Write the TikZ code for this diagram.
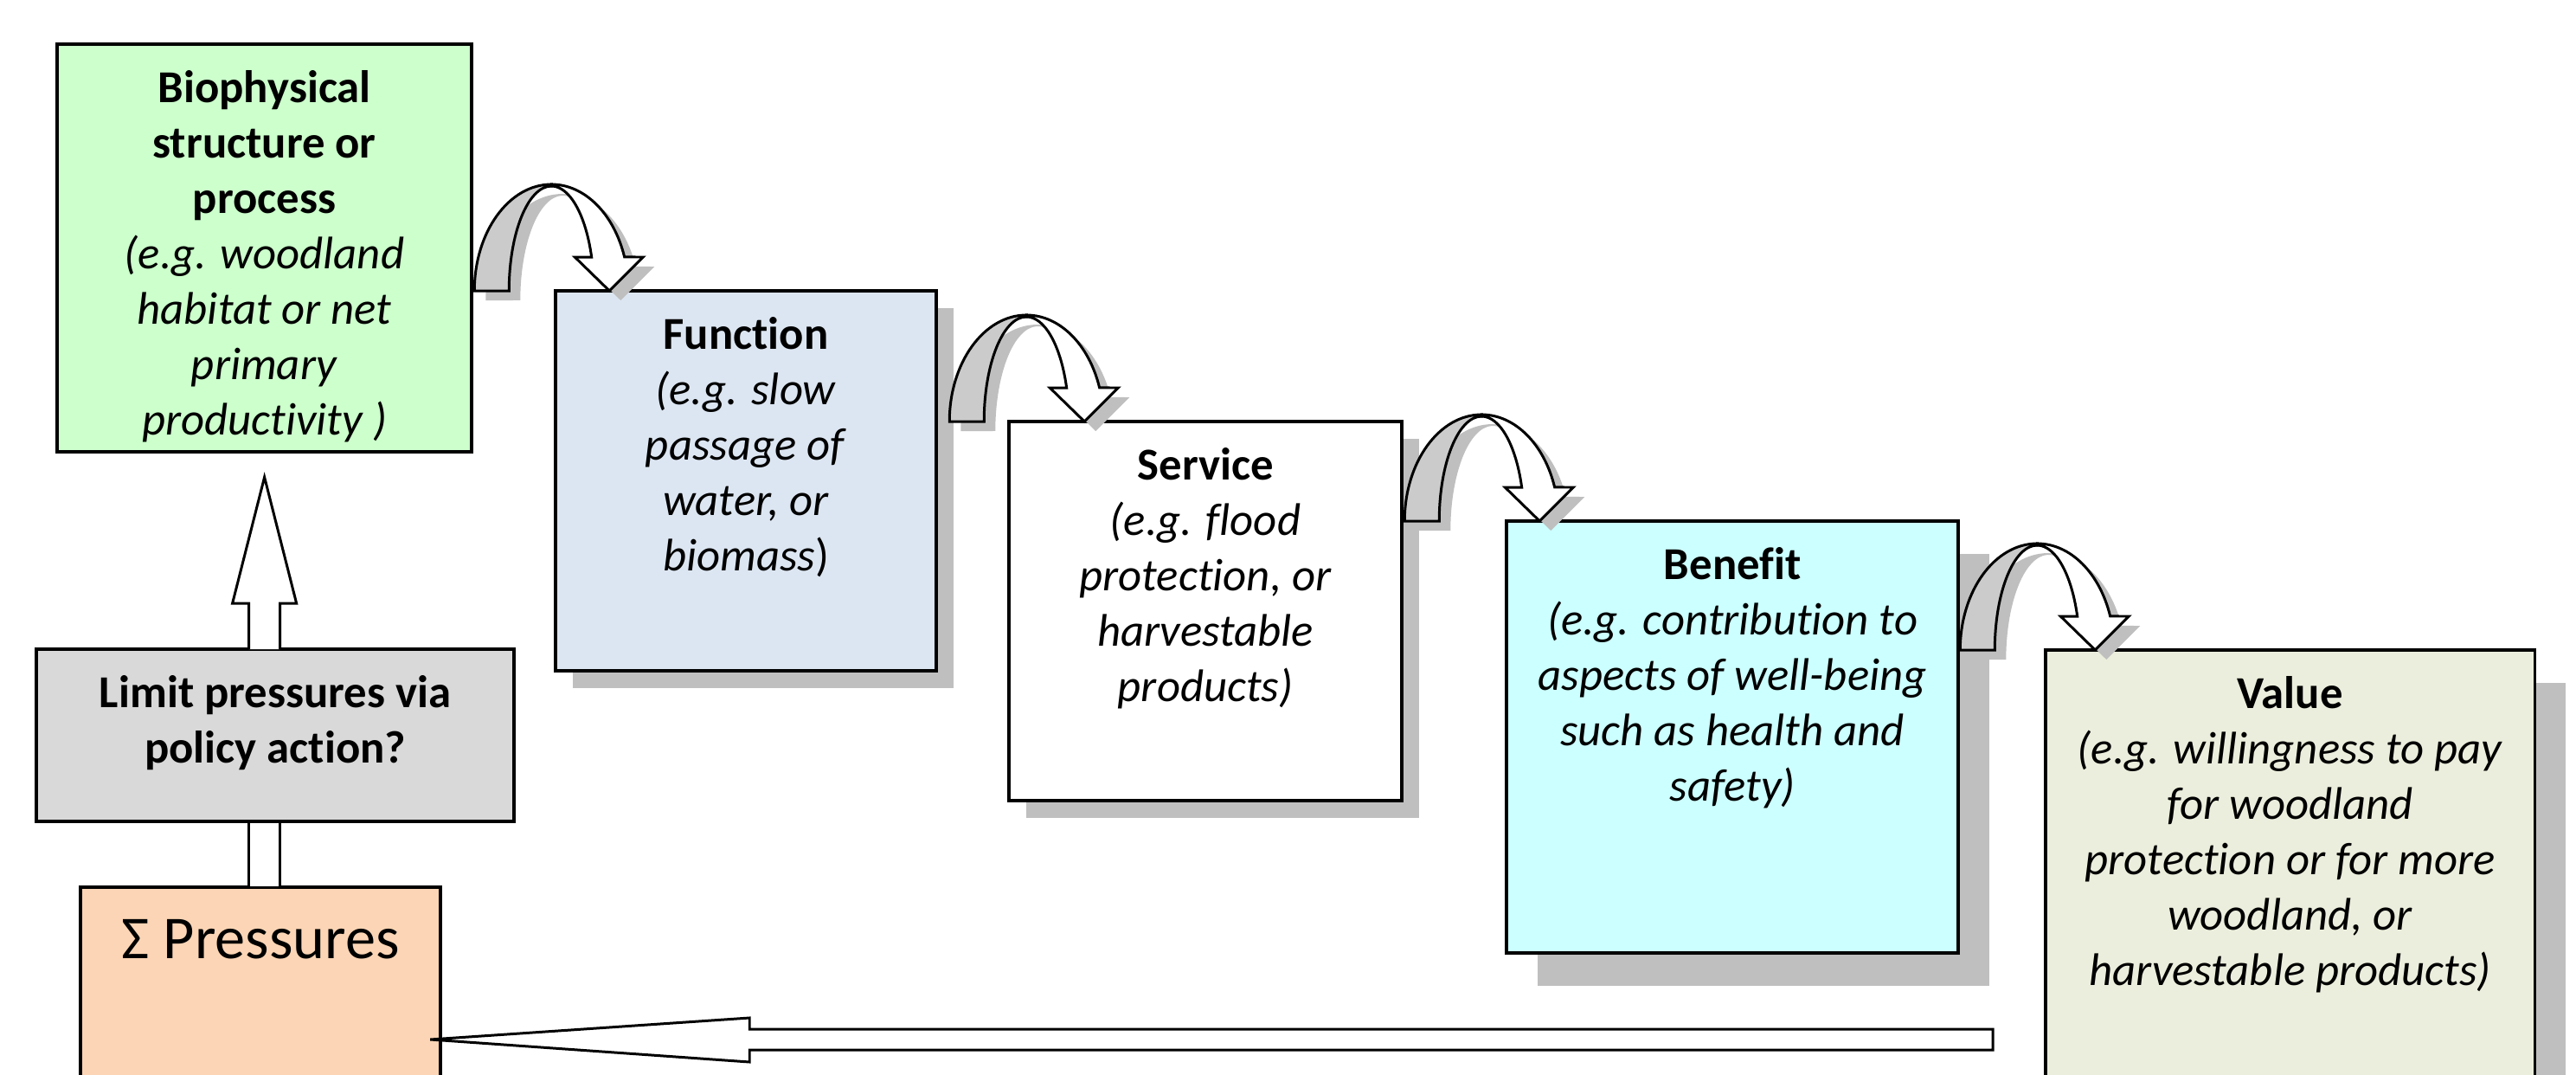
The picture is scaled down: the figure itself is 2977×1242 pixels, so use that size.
\documentclass[tikz,border=0pt]{standalone}
\usepackage{fontspec}
\setmainfont{Carlito}[Ligatures={NoCommon}]
\usetikzlibrary{calc,shadows}
\definecolor{biogreen}{HTML}{CCFFCC}
\definecolor{funcblue}{HTML}{DCE6F2}
\definecolor{benefitcyan}{HTML}{CCFFFF}
\definecolor{valuegreen}{HTML}{EBEEDC}
\definecolor{limitgray}{HTML}{D9D9D9}
\definecolor{pressorange}{HTML}{FBD5B5}
\definecolor{shadowgray}{HTML}{BFBFBF}
\definecolor{backgray}{HTML}{CBCBCB}
\tikzset{
  box/.style={draw=black, line width=1.05pt, rectangle, inner sep=0pt, outer sep=0pt, anchor=north west},
  shadowsmall/.style={drop shadow={shadow xshift=0.2cm, shadow yshift=-0.2cm, fill=shadowgray, opacity=1}},
  shadowlarge/.style={drop shadow={shadow xshift=0.36cm, shadow yshift=-0.38cm, fill=shadowgray, opacity=1}},
  txt/.style={align=center, inner sep=0pt, outer sep=0pt, anchor=north, font=\fontsize{15pt}{18.2pt}\selectfont},
  bigtxt/.style={align=center, inner sep=0pt, outer sep=0pt, anchor=north, font=\fontsize{20pt}{24pt}\selectfont},
  arrline/.style={draw=black, line width=0.85pt, line join=miter},
  blockline/.style={draw=black, fill=white, line width=0.85pt, line join=miter},
  curvedarr/.pic={
    \begin{scope}[shift={(13,-11)}]
      \fill[shadowgray] (0,0) arc[start angle=180,end angle=18.5,x radius=89,y radius=123]
        -- (195,39) -- (156,0) -- (116,39) -- (135.4,39)
        arc[start angle=18.8,end angle=180,x radius=49,y radius=121] -- cycle;
    \end{scope}
    \draw[arrline, fill=backgray] (0,0) arc[start angle=180,end angle=90,x radius=89,y radius=123]
      -- (89,121) arc[start angle=90,end angle=180,x radius=49,y radius=121] -- cycle;
    \draw[arrline, fill=white] (89,123) arc[start angle=90,end angle=18.5,x radius=89,y radius=123]
      -- (195,39) -- (156,0) -- (116,39) -- (135.4,39)
      arc[start angle=18.8,end angle=90,x radius=49,y radius=121] -- cycle;
  }
}
\begin{document}
\begin{tikzpicture}[x=0.01cm,y=0.01cm]
\useasboundingbox (0,0) rectangle (2977,-1242);
\clip (0,0) rectangle (2977,-1242);
\fill[white] (0,0) rectangle (2977,-1242);

% boxes
\node[box, fill=biogreen, minimum width=4.79cm, minimum height=4.71cm] (bio) at (66,-51) {};
\node[box, fill=funcblue, shadowsmall, minimum width=4.40cm, minimum height=4.39cm] (func) at (642,-336) {};
\node[box, fill=white, shadowsmall, minimum width=4.54cm, minimum height=4.38cm] (serv) at (1166,-487) {};
\node[box, fill=benefitcyan, shadowlarge, minimum width=5.22cm, minimum height=4.99cm] (ben) at (1741,-602) {};
\node[box, fill=valuegreen, shadowlarge, minimum width=5.65cm, minimum height=6.00cm] (val) at (2364,-751) {};
\node[box, fill=limitgray, minimum width=5.52cm, minimum height=1.99cm] (limit) at (42,-750) {};
\node[box, fill=pressorange, minimum width=4.16cm, minimum height=3.00cm] (press) at (93,-1025) {};

% texts
\node[txt] (biot) at ($(bio.north)+(0,-30)$) {\textbf{Biophysical}\\\textbf{structure or}\\\textbf{process}\\\textit{(e.g. woodland}\\\textit{habitat or net}\\\textit{primary}\\\textit{productivity )}};
\node[txt] (funct) at ($(func.north)+(0,-30)$) {\textbf{Function}\\\textit{(e.g. slow}\\\textit{passage of}\\\textit{water, or}\\\textit{biomass})};
\node[txt] (servt) at ($(serv.north)+(0,-30)$) {\textbf{Service}\\\textit{(e.g. flood}\\\textit{protection, or}\\\textit{harvestable}\\\textit{products)}};
\node[txt] (bent) at ($(ben.north)+(0,-30)$) {\textbf{Benefit}\\\textit{(e.g. contribution to}\\\textit{aspects of well-being}\\\textit{such as health and}\\\textit{safety)}};
\node[txt] (valt) at ($(val.north)+(0,-30)$) {\textbf{Value}\\\textit{(e.g. willingness to pay}\\\textit{for woodland}\\\textit{protection or for more}\\\textit{woodland, or}\\\textit{harvestable products)}};
\node[txt] (limitt) at ($(limit.north)+(0,-30)$) {\textbf{Limit pressures via}\\\textbf{policy action?}};
\node[bigtxt] (presst) at ($(press.north)+(0,-37)$) {Σ Pressures};

% curved arrows between boxes
\coordinate (c1) at ($(bio.east|-func.north)+(3,0)$);
\coordinate (c2) at ($(func.east|-serv.north)+(15,0)$);
\coordinate (c3) at ($(serv.east|-ben.north)+(3,0)$);
\coordinate (c4) at ($(ben.east|-val.north)+(2,0)$);
\pic at (c1) {curvedarr};
\pic at (c2) {curvedarr};
\pic at (c3) {curvedarr};
\pic at (c4) {curvedarr};

% up arrow from limit to bio
\coordinate (ub) at (bio.south|-limit.north);
\draw[blockline] ($(ub)+(-18,0)$) -- ($(ub)+(-18,53)$) -- ($(ub)+(-37,53)$) -- ($(bio.south)+(0,-29)$)
  -- ($(ub)+(37,53)$) -- ($(ub)+(18,53)$) -- ($(ub)+(18,0)$);
% shaft from pressures to limit
\draw[blockline] ($(bio.south|-limit.south)+(-18,0)$) rectangle ($(bio.south|-press.north)+(18,0)$);

% long arrow back to pressures
\coordinate (bstart) at (2303,-1201);
\coordinate (btip) at ($(press.east|-bstart)+(-12,0)$);
\draw[blockline] (btip) -- ($(btip)+(369,25)$) -- ($(btip)+(369,12)$) -- ($(bstart)+(0,12)$)
  -- ($(bstart)+(0,-12)$) -- ($(btip)+(369,-12)$) -- ($(btip)+(369,-26)$) -- cycle;
\end{tikzpicture}
\end{document}
